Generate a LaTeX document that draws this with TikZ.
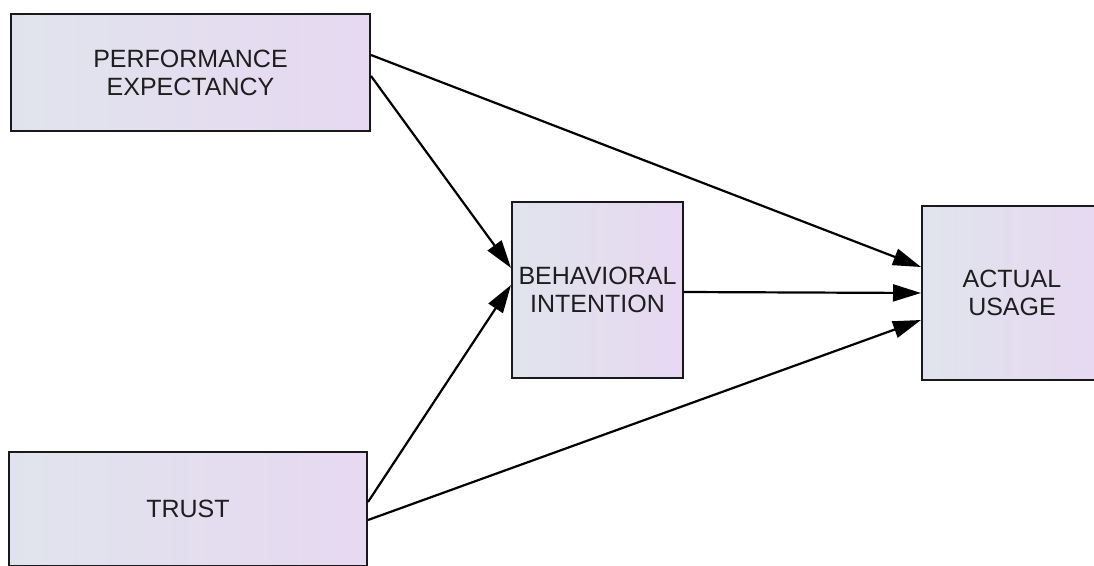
\documentclass[tikz,border=0pt]{standalone}
\usepackage{fontspec}
\setmainfont{Liberation Sans}
\usetikzlibrary{arrows.meta}
\definecolor{boxleft}{RGB}{221,233,234}
\definecolor{boxright}{RGB}{234,211,244}
\definecolor{boxline}{RGB}{25,25,25}
\definecolor{labeltext}{RGB}{30,30,30}
% even left-to-right fade across the whole box
\pgfdeclarehorizontalshading{boxfade}{100bp}{color(0bp)=(boxleft); color(100bp)=(boxright)}
\begin{document}
\begin{tikzpicture}[x=1pt,y=-1pt,
  construct/.style={draw=boxline, line width=2pt, shading=boxfade, shading angle=0,
    inner sep=0pt, align=center, text=labeltext,
    font=\fontsize{25}{28}\selectfont},
  link/.style={draw=black, line width=2.2pt, -{Triangle[length=28pt,width=17pt]}}]
  \useasboundingbox (0,0) rectangle (1094,565);
  \clip (0,0) rectangle (1094,565);
  % constructs
  \node[construct, minimum width=359pt, minimum height=117pt] (pe) at (190.5,72.5) {PERFORMANCE\\EXPECTANCY};
  \node[construct, minimum width=358pt, minimum height=114pt] (tr) at (188,509) {TRUST};
  \node[construct, minimum width=171pt, minimum height=176pt] (bi) at (597.5,290) {BEHAVIORAL\\INTENTION};
  \node[construct, minimum width=180pt, minimum height=174pt] (au) at (1012,293) {ACTUAL\\USAGE};
  % paths
  \draw[link] ([yshift=17.5pt]pe.east) -- ([yshift=26pt]au.west);
  \draw[link] ([yshift=-3.5pt]pe.east) -- ([yshift=22pt]bi.west);
  \draw[link] ([yshift=7pt]tr.east) -- ([yshift=5pt]bi.west);
  \draw[link] ([yshift=-11pt]tr.east) -- ([yshift=-27pt]au.west);
  \draw[link] ([yshift=-2pt]bi.east) -- (au.west);
\end{tikzpicture}
\end{document}
